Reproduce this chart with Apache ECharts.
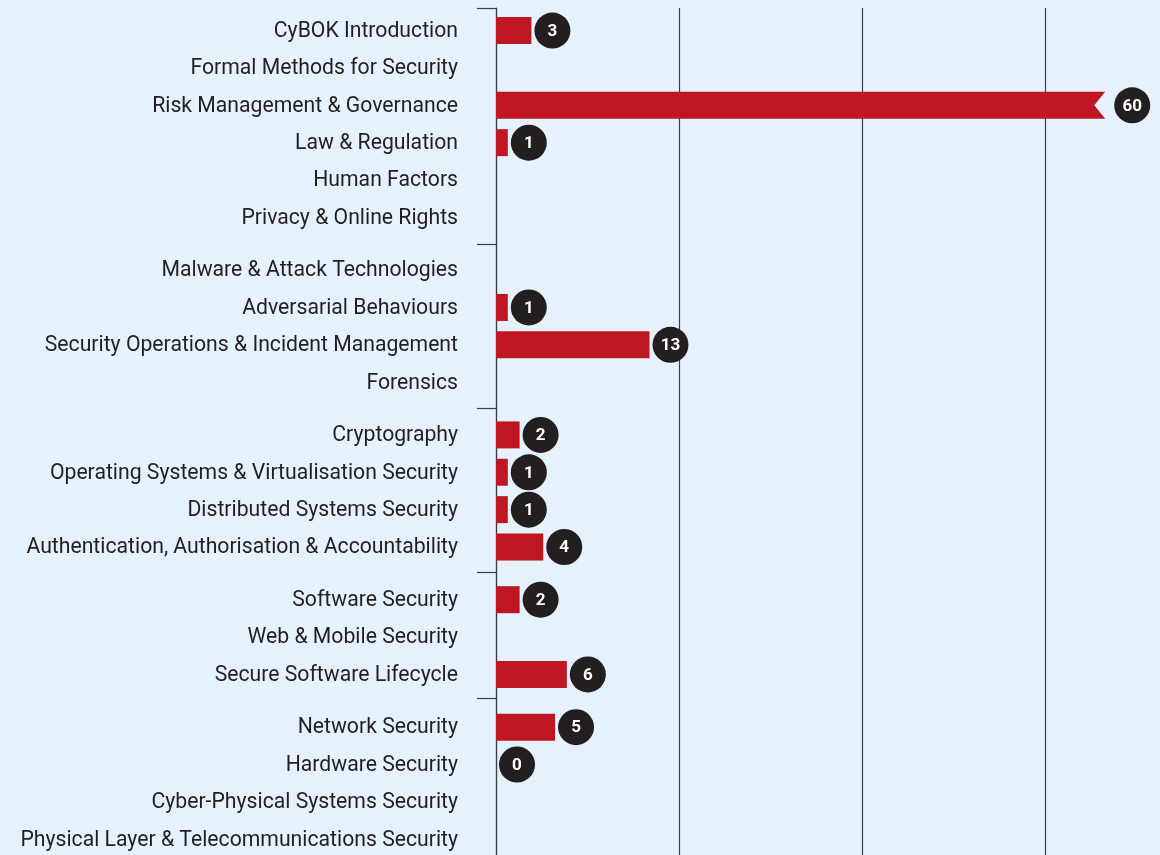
<!DOCTYPE html>
<html>
<head>
<meta charset="UTF-8">
<title>CyBOK knowledge areas</title>
<script src="https://cdn.jsdelivr.net/npm/echarts@6/dist/echarts.min.js"></script>
<style>
	body { margin: 0; background: #e5f2fc; }
	#main { width: 1160px; height: 855px; }
</style>
</head>
<body>
	<div id="main"></div>

	<script type="text/javascript">
		// knowledge areas, top to bottom
		var categories = [
			'CyBOK Introduction', 'Formal Methods for Security', 'Risk Management & Governance',
			'Law & Regulation', 'Human Factors', 'Privacy & Online Rights',
			'Malware & Attack Technologies', 'Adversarial Behaviours',
			'Security Operations & Incident Management', 'Forensics',
			'Cryptography', 'Operating Systems & Virtualisation Security',
			'Distributed Systems Security', 'Authentication, Authorisation & Accountability',
			'Software Security', 'Web & Mobile Security', 'Secure Software Lifecycle',
			'Network Security', 'Hardware Security', 'Cyber-Physical Systems Security',
			'Physical Layer & Telecommunications Security'
		];
		// null = no bar and no label
		var values = [3, null, 60, 1, null, null,
			null, 1, 13, null,
			2, 1, 1, 4,
			2, null, 6,
			5, 0, null, null];
		// how many areas in each group
		var groupSizes = [6, 4, 4, 3, 4];

		var GROUP_GAP = 0.41;   // extra space between groups, in rows
		var BAR_CAP = 51.6;     // longer bars are cut with a notch

		// row positions on the y value axis
		var positions = [];
		var boundaries = [];
		var idx = 0;
		groupSizes.forEach(function (n, g) {
			for (var k = 0; k < n; k++) {
				positions.push(idx + g * GROUP_GAP);
				idx++;
			}
			if (g < groupSizes.length - 1) {
				boundaries.push(positions[positions.length - 1] + 0.5 + GROUP_GAP / 2 - 0.03 * g);
			}
		});

		var Y_MIN = -0.63, Y_MAX = Y_MIN + 22.665;

		var barData = [];
		values.forEach(function (v, i) {
			if (v !== null) barData.push([v, positions[i]]);
		});

		var myChart = echarts.init(document.getElementById('main'));
		myChart.setOption({
			backgroundColor : '#e5f2fc',
			animation : false,
			textStyle : { fontFamily : 'Roboto' },
			grid : { left : 496, top : 8, right : 0, bottom : 0 },
			xAxis : {
				type : 'value',
				min : 0,
				max : 56.24,
				interval : 15.5,
				axisLabel : { show : false },
				axisTick : { show : false },
				axisLine : { show : false },
				splitLine : { showMaxLine : false, lineStyle : { color : '#3d3d45', width : 1.2 } }
			},
			yAxis : {
				type : 'value',
				inverse : true,
				min : Y_MIN,
				max : Y_MAX,
				splitLine : { show : false },
				axisLine : { show : true, lineStyle : { color : '#3d3d45', width : 1.2 } },
				axisTick : {
					show : true,
					length : 19,
					customValues : [Y_MIN].concat(boundaries),
					lineStyle : { color : '#3d3d45', width : 1.2 }
				},
				axisLabel : {
					customValues : positions,
					margin : 38,
					color : '#231f20',
					fontSize : 21.2,
					fontFamily : 'Roboto',
					formatter : function (val) {
						for (var i = 0; i < positions.length; i++) {
							if (Math.abs(positions[i] - val) < 0.01) return categories[i];
						}
						return '';
					}
				}
			},
			series : [ {
				type : 'custom',
				clip : false,
				encode : { x : 0, y : 1 },
				data : barData,
				renderItem : function (params, api) {
					var v = api.value(0), p = api.value(1);
					var start = api.coord([0, p]);
					var cy = start[1] - 1;
					var capped = v > BAR_CAP;
					var end = api.coord([Math.min(v, BAR_CAP), p]);
					var h = 27, top = cy - h / 2;
					var children = [];
					if (v > 0 && !capped) {
						children.push({
							type : 'rect',
							shape : { x : start[0], y : top, width : end[0] - start[0], height : h },
							style : { fill : '#be1622' }
						});
					} else if (capped) {
						children.push({
							type : 'polygon',
							shape : { points : [[start[0], top], [end[0], top], [end[0] - 11, cy],
								[end[0], top + h], [start[0], top + h]] },
							style : { fill : '#be1622' }
						});
					}
					var cx = end[0] + (capped ? 27 : 21);
					children.push({
						type : 'circle',
						shape : { cx : cx, cy : cy, r : 18 },
						style : { fill : '#231f20' }
					});
					children.push({
						type : 'text',
						x : cx, y : cy + 1,
						style : {
							text : String(v), fill : '#fff', fontSize : 17, fontWeight : 'bold',
							fontFamily : 'Roboto', align : 'center', verticalAlign : 'middle'
						}
					});
					return { type : 'group', children : children };
				}
			} ]
		});
	</script>
</body>
</html>
